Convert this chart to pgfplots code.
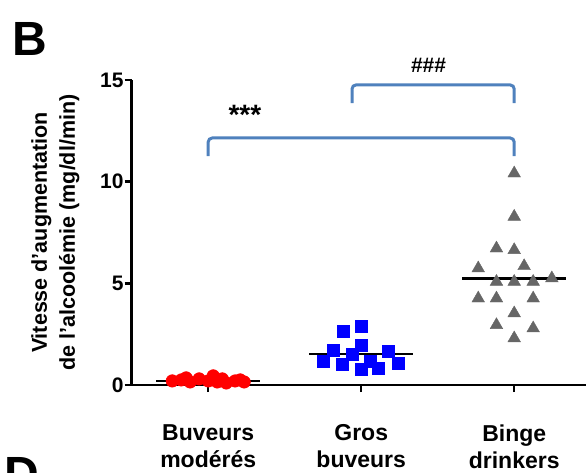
\documentclass[border=0pt]{standalone}
\usepackage{fontspec}
\setmainfont{Liberation Sans}
\usepackage{pgfplots}
\pgfplotsset{compat=1.18}
\definecolor{brk}{RGB}{79,129,189}
\definecolor{tri}{RGB}{102,102,102}
\begin{document}
\begin{tikzpicture}[x=1pt,y=1pt]
\useasboundingbox (0,0) rectangle (586,472);
\begin{axis}[
  at={(131.7pt,87pt)}, anchor=south west,
  x=153pt, y=20.33pt,
  xmin=-0.5, xmax=2.6, ymin=0, ymax=15,
  axis x line*=bottom, axis y line*=left,
  axis line style={line width=2.5pt},
  every tick/.style={black, line width=2.5pt},
  major tick length=7pt, tick align=outside,
  xtick={0,1,2},
  xticklabels={{Buveurs\\modérés},{Gros\\buveurs},{Binge\\drinkers}},
  xticklabel style={align=center, font=\fontsize{23}{27}\selectfont\bfseries, yshift=-29pt},
  ytick={0,5,10,15},
  yticklabel style={font=\fontsize{21}{24}\selectfont\bfseries, inner sep=1pt},
  /pgf/number format/assume math mode=true,
  ylabel={Vitesse d'augmentation\\de l'alcoolémie (mg/dl/min)},
  ylabel style={at={(axis description cs:-0.161,0.5)}, anchor=center, align=center, font=\fontsize{21.5}{28}\selectfont\bfseries},
  clip=false,
]
% Buveurs modérés
\addplot[only marks, mark=*, mark size=6.3pt, color=red, mark options={fill=red, draw=red}] coordinates {
  (-0.235,0.20) (-0.176,0.25) (-0.144,0.35) (-0.118,0.15) (-0.059,0.30) (0,0.20)
  (0.033,0.45) (0.059,0.15) (0.092,0.30) (0.118,0.10) (0.176,0.20) (0.209,0.25) (0.235,0.15)
};
% Gros buveurs
\addplot[only marks, mark=square*, mark size=6pt, color=blue, mark options={fill=blue, draw=blue}] coordinates {
  (0.880,2.66) (1.000,2.87) (0.819,1.69) (1.000,1.97) (1.176,1.64) (0.754,1.15)
  (0.874,1.03) (0.941,1.52) (1.000,0.77) (1.059,1.15) (1.111,0.82) (1.240,1.07)
};
% Binge drinkers
\addplot[only marks, mark=triangle*, mark size=7.3pt, color=tri, mark options={fill=tri, draw=tri}] coordinates {
  (2,10.41) (2,8.28) (1.884,6.72) (2,6.64) (1.765,5.74) (2.065,5.85)
  (1.884,5.08) (2,5.08) (2.124,5.08) (2.246,5.25) (1.765,4.26) (1.884,4.26)
  (2.124,4.26) (2,3.53) (1.884,2.95) (2.124,2.79) (2,2.30)
};
% medians
\addplot[black, line width=2.5pt, no marks] coordinates {(-0.34,0.2) (0.34,0.2)};
\addplot[black, line width=2.5pt, no marks] coordinates {(0.66,1.52) (1.34,1.52)};
\addplot[black, line width=2.5pt, no marks] coordinates {(1.66,5.25) (2.34,5.25)};
% brackets
\addplot[brk, line width=3pt, no marks, rounded corners=4pt] coordinates {(0,11.26) (0,12.15) (2,12.15) (2,11.26)};
\addplot[brk, line width=3pt, no marks, rounded corners=4pt] coordinates {(0.94,13.87) (0.94,14.76) (2,14.76) (2,13.87)};
\node[font=\fontsize{28}{28}\selectfont\bfseries] at (axis cs:0.24,13.3) {***};
\node[font=\fontsize{21}{21}\selectfont\bfseries] at (axis cs:1.44,15.7) {\#\#\#};
\end{axis}
\node[anchor=base west, inner sep=0pt, font=\fontsize{48}{48}\selectfont\bfseries] at (12,416) {B};
\node[anchor=base west, inner sep=0pt, font=\fontsize{48}{48}\selectfont\bfseries] at (4,-18) {D};
\end{tikzpicture}
\end{document}
